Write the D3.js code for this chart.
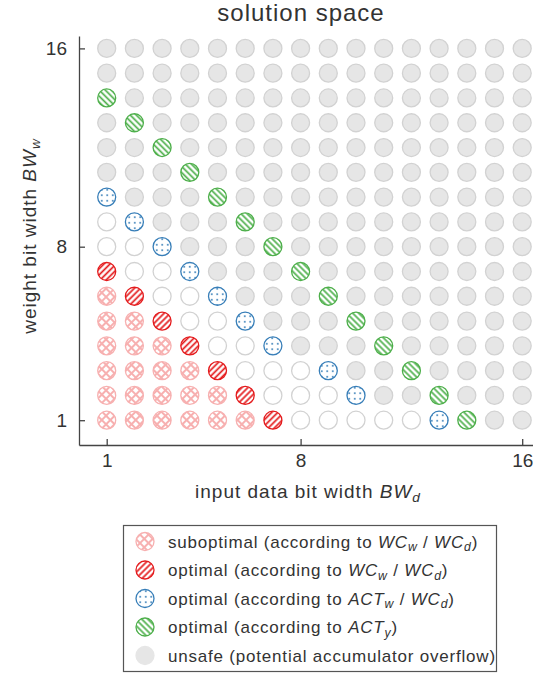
<!DOCTYPE html>
<html>
<head>
<meta charset="utf-8">
<script src="https://cdn.jsdelivr.net/npm/d3@7/dist/d3.min.js"></script>
<style>
  body { margin: 0; background: #fff; }
  text { font-family: "Liberation Sans", Arial, Helvetica, sans-serif; fill: #333; }
</style>
</head>
<body>
<script>
// input data bit width BW_d (columns)
var inputBits = [1, 2, 3, 4, 5, 6, 7, 8, 9, 10, 11, 12, 13, 14, 15, 16];
// weight bit width BW_w, one row per entry in cellRows (top to bottom)
var weightBits = [16, 15, 14, 13, 12, 11, 10, 9, 8, 7, 6, 5, 4, 3, 2, 1];
// S = suboptimal, R = optimal WC, B = optimal ACTw, G = optimal ACTy, W = safe, U = unsafe
var cellRows = [
  "UUUUUUUUUUUUUUUU",
  "UUUUUUUUUUUUUUUU",
  "GUUUUUUUUUUUUUUU",
  "UGUUUUUUUUUUUUUU",
  "UUGUUUUUUUUUUUUU",
  "UUUGUUUUUUUUUUUU",
  "BUUUGUUUUUUUUUUU",
  "WBUUUGUUUUUUUUUU",
  "WWBUUUGUUUUUUUUU",
  "RWWBUUUGUUUUUUUU",
  "SRWWBUUUGUUUUUUU",
  "SSRWWBUUUGUUUUUU",
  "SSSRWWBUUUGUUUUU",
  "SSSSRWWWBUUGUUUU",
  "SSSSSRWWWBUUGUUU",
  "SSSSSSRWWWWWBGUU"
];
var xTicks = [1, 8, 16];
var yTicks = [1, 8, 16];

var legendCodes = ["S", "R", "B", "G", "U"];
var legendLabels = [
  [{t: "suboptimal (according to "}, {t: "WC", i: 1}, {t: "w", i: 1, s: 1}, {t: " / "}, {t: "WC", i: 1}, {t: "d", i: 1, s: 1}, {t: ")"}],
  [{t: "optimal (according to "}, {t: "WC", i: 1}, {t: "w", i: 1, s: 1}, {t: " / "}, {t: "WC", i: 1}, {t: "d", i: 1, s: 1}, {t: ")"}],
  [{t: "optimal (according to "}, {t: "ACT", i: 1}, {t: "w", i: 1, s: 1}, {t: " / "}, {t: "WC", i: 1}, {t: "d", i: 1, s: 1}, {t: ")"}],
  [{t: "optimal (according to "}, {t: "ACT", i: 1}, {t: "y", i: 1, s: 1}, {t: ")"}],
  [{t: "unsafe (potential accumulator overflow)"}]
];

var width = 533, height = 675;
var red = "#e41a1c", blue = "#377eb8", green = "#4daf4a", pink = "#f7b0b0";

var styles = {
  S: {fill: "url(#patSub)", stroke: pink},
  R: {fill: "url(#patRed)", stroke: red},
  B: {fill: "url(#patBlue)", stroke: blue},
  G: {fill: "url(#patGreen)", stroke: green},
  W: {fill: "#ffffff", stroke: "#d2d2d2"},
  U: {fill: "#e6e6e6", stroke: "#d2d2d2"}
};

var svg = d3.select("body").append("svg")
  .attr("width", width)
  .attr("height", height);

// hatch patterns
var defs = svg.append("defs");

function hatch(id, color, angle, gap, lw) {
  var p = defs.append("pattern")
    .attr("id", id)
    .attr("patternUnits", "userSpaceOnUse")
    .attr("width", gap).attr("height", gap)
    .attr("patternTransform", "rotate(" + angle + ")");
  p.append("rect").attr("width", gap).attr("height", gap).attr("fill", "#fff");
  p.append("line").attr("x1", gap / 2).attr("x2", gap / 2).attr("y1", 0).attr("y2", gap)
    .attr("stroke", color).attr("stroke-width", lw);
  return p;
}
hatch("patRed", red, 45, 4.3, 1.7);
hatch("patGreen", green, -45, 4.3, 1.7);
hatch("patSub", pink, 45, 6, 2)
  .append("line").attr("x1", 0).attr("x2", 6).attr("y1", 3).attr("y2", 3)
  .attr("stroke", pink).attr("stroke-width", 2);

var dots = defs.append("pattern")
  .attr("id", "patBlue")
  .attr("patternUnits", "userSpaceOnUse")
  .attr("width", 5.5).attr("height", 5.5);
dots.append("rect").attr("width", 5.5).attr("height", 5.5).attr("fill", "#fff");
dots.append("circle").attr("cx", 2.75).attr("cy", 2.75).attr("r", 1).attr("fill", blue);

var x = d3.scaleLinear().domain([0, 17]).range([79, 79 + 17 * 27.7]);
var y = d3.scaleLinear().domain([0, 16.5]).range([445, 36]);

// title
svg.append("text")
  .attr("x", 301).attr("y", 21)
  .attr("text-anchor", "middle")
  .attr("font-size", "24px")
  .attr("letter-spacing", "1px")
  .text("solution space");

// cells
var cells = [];
weightBits.forEach(function(w, r) {
  inputBits.forEach(function(d, c) {
    cells.push({d: d, w: w, code: cellRows[r][c]});
  });
});

svg.append("g").selectAll("circle")
  .data(cells)
  .enter().append("circle")
  .attr("cx", function(d) { return x(d.d); })
  .attr("cy", function(d) { return y(d.w); })
  .attr("r", 9)
  .attr("fill", function(d) { return styles[d.code].fill; })
  .attr("stroke", function(d) { return styles[d.code].stroke; })
  .attr("stroke-width", 1.3);

// axes
var xAxis = svg.append("g")
  .attr("transform", "translate(0,445)")
  .call(d3.axisBottom(x).tickValues(xTicks).tickSizeInner(-6).tickSizeOuter(0).tickPadding(9));
var yAxis = svg.append("g")
  .attr("transform", "translate(79,0)")
  .call(d3.axisLeft(y).tickValues(yTicks).tickSizeInner(-6).tickSizeOuter(0).tickPadding(12));

[xAxis, yAxis].forEach(function(a) {
  a.select(".domain").attr("stroke", "#444").attr("stroke-width", 1.3);
  a.selectAll(".tick line").attr("stroke", "#444").attr("stroke-width", 1.3);
  a.selectAll(".tick text").attr("font-size", "19px").attr("fill", "#333")
    .attr("font-family", "'Liberation Sans', Arial, sans-serif");
});

function richText(sel, segs) {
  var shifted = false;
  segs.forEach(function(s) {
    var ts = sel.append("tspan").text(s.t);
    if (s.i) ts.attr("font-style", "italic");
    if (s.s && !shifted) { ts.attr("dy", "0.3em").attr("font-size", "0.72em"); shifted = true; }
    else if (s.s) { ts.attr("font-size", "0.72em"); }
    else if (shifted) { ts.attr("dy", "-0.216em"); shifted = false; }
  });
}

// axis labels
var xl = svg.append("text")
  .attr("x", 308).attr("y", 498)
  .attr("text-anchor", "middle")
  .attr("font-size", "19px")
  .attr("letter-spacing", "1px");
richText(xl, [{t: "input data bit width "}, {t: "BW", i: 1}, {t: "d", i: 1, s: 1}]);

var yl = svg.append("text")
  .attr("transform", "translate(36,236) rotate(-90)")
  .attr("text-anchor", "middle")
  .attr("font-size", "19px")
  .attr("letter-spacing", "1px");
richText(yl, [{t: "weight bit width "}, {t: "BW", i: 1}, {t: "w", i: 1, s: 1}]);

// legend
var legend = svg.append("g");
legend.append("rect")
  .attr("x", 123.5).attr("y", 525.5)
  .attr("width", 373).attr("height", 146)
  .attr("fill", "#fff")
  .attr("stroke", "#555")
  .attr("stroke-width", 1.2);

var rowY = d3.scaleLinear().domain([0, 4]).range([541.5, 655.5]);
legendCodes.forEach(function(code, i) {
  legend.append("circle")
    .attr("cx", 145).attr("cy", rowY(i)).attr("r", 9)
    .attr("fill", styles[code].fill)
    .attr("stroke", code === "U" ? "#e6e6e6" : styles[code].stroke)
    .attr("stroke-width", 1.3);
  var t = legend.append("text")
    .attr("x", 168).attr("y", rowY(i) + 6)
    .attr("font-size", "17px")
    .attr("letter-spacing", "0.8px");
  richText(t, legendLabels[i]);
});
</script>
</body>
</html>
